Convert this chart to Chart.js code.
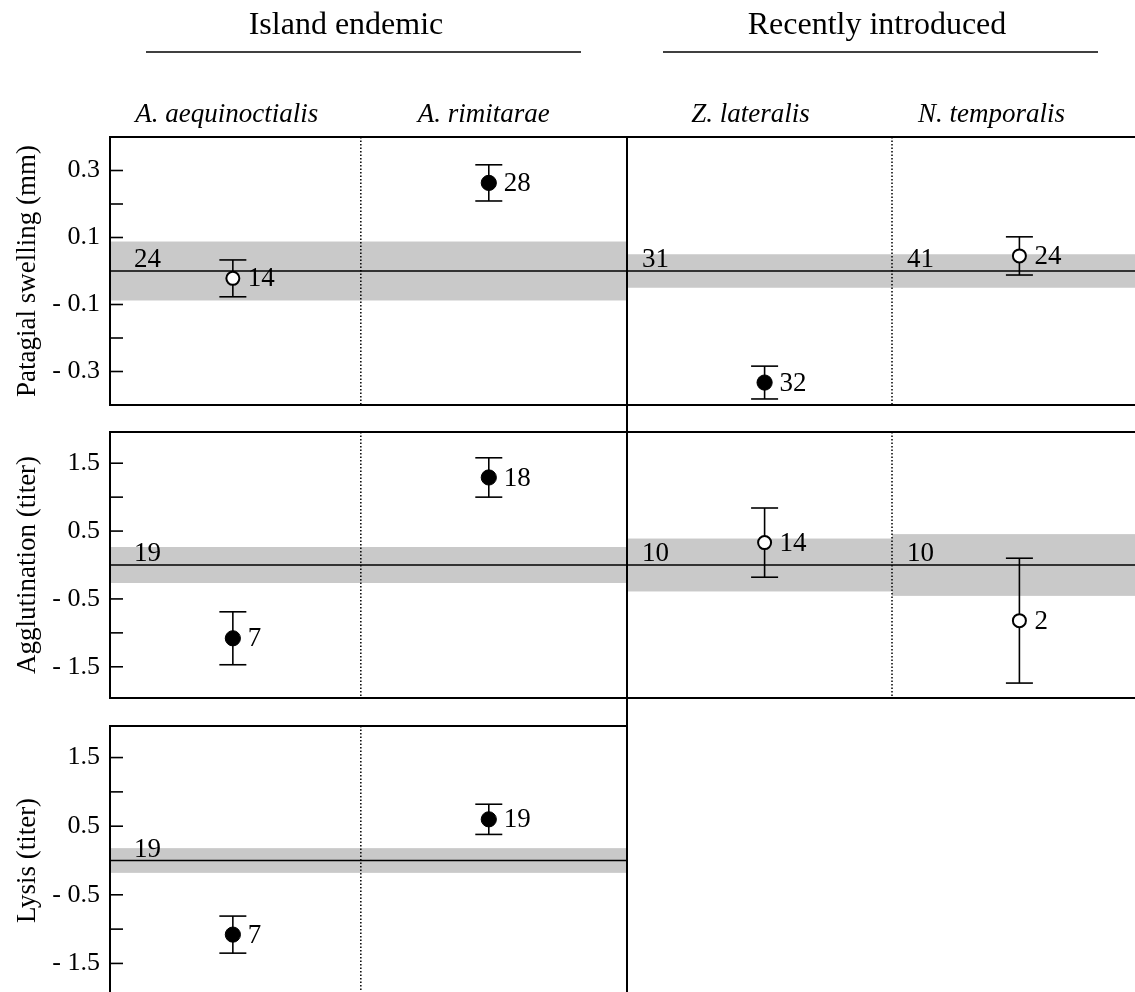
<!DOCTYPE html>
<html>
<head>
<meta charset="utf-8">
<title>Immune responses of island endemic and recently introduced species</title>
<script src="https://cdn.jsdelivr.net/npm/chart.js@4.4.1/dist/chart.umd.min.js"></script>
<style>
  html, body { margin: 0; padding: 0; background: #fff; overflow: hidden; width: 1135px; height: 992px; }
  #stage { position: relative; width: 1135px; height: 992px; overflow: hidden; }
  #stage canvas { position: absolute; left: 0; top: 0; }
</style>
</head>
<body>
<div id="stage"></div>
<script>
// ---------- data ----------
const speciesNames = ['A. aequinoctialis', 'A. rimitarae', 'Z. lateralis', 'N. temporalis'];
const groupNames = ['Island endemic', 'Recently introduced'];
const groupSpecies = [[0, 1], [2, 3]];
const measureTitles = ['Patagial swelling (mm)', 'Agglutination (titer)', 'Lysis (titer)'];

// Patagial swelling: mean response ± SE (relative to control), sample sizes
const swellingMean = [-0.022, 0.263, -0.333, 0.045];
const swellingSE = [0.055, 0.054, 0.049, 0.057];
const swellingN = [14, 28, 32, 24];
const swellingSignificant = [false, true, true, false];
const swellingControlN = [24, 31, 41];
const swellingControlSE = [0.088, 0.05, 0.05];

// Agglutination titer
const agglutinationMean = [-1.08, 1.29, 0.33, -0.82];
const agglutinationSE = [0.39, 0.29, 0.51, 0.92];
const agglutinationN = [7, 18, 14, 2];
const agglutinationSignificant = [true, true, false, false];
const agglutinationControlN = [19, 10, 10];
const agglutinationControlSE = [0.265, 0.39, 0.455];

// Lysis titer (island endemics only)
const lysisMean = [-1.08, 0.60];
const lysisSE = [0.27, 0.22];
const lysisN = [7, 19];
const lysisSignificant = [true, true];
const lysisControlN = [19];
const lysisControlSE = [0.18];

// species covered by each control band
const controlSpecies = [[0, 1], [2], [3]];

// labelled y ticks
const swellingTickLabels = [0.3, 0.1, -0.1, -0.3];
const titerTickLabels = [1.5, 0.5, -0.5, -1.5];

// ---------- layout ----------
const W = 1170, H = 1040;
const SERIF = '"Liberation Serif", "Times New Roman", serif';
const groupBox = [
  { left: 110, right: 627, min: 0.02, max: 2.04, labelPad: 24, nameShift: [-6, -5],
    header: { cx: 346, lineL: 146, lineR: 581 } },
  { left: 627, right: 1157, min: -0.04, max: 2.04, labelPad: 15, nameShift: [-14, -28],
    header: { cx: 877, lineL: 663, lineR: 1098 } }
];
const rowBox = [
  { top: 137, bottom: 405, min: -0.4, max: 0.4, step: 0.1 },
  { top: 432, bottom: 698, min: -1.96, max: 1.96, step: 0.5 },
  { top: 726, bottom: 995, min: -1.96, max: 1.96, step: 0.5 }
];

const measures = [
  { title: measureTitles[0], mean: swellingMean, se: swellingSE, n: swellingN, sig: swellingSignificant,
    ctrlN: swellingControlN, ctrlSE: swellingControlSE, tickLabels: swellingTickLabels },
  { title: measureTitles[1], mean: agglutinationMean, se: agglutinationSE, n: agglutinationN, sig: agglutinationSignificant,
    ctrlN: agglutinationControlN, ctrlSE: agglutinationControlSE, tickLabels: titerTickLabels },
  { title: measureTitles[2], mean: lysisMean, se: lysisSE, n: lysisN, sig: lysisSignificant,
    ctrlN: lysisControlN, ctrlSE: lysisControlSE, tickLabels: titerTickLabels }
];

function fmtTick(v) {
  const a = Math.abs(v).toFixed(1);
  return v < 0 ? '- ' + a : a;
}

function strokeLine(ctx, x1, y1, x2, y2, w) {
  ctx.lineWidth = w;
  ctx.beginPath();
  ctx.moveTo(x1, y1);
  ctx.lineTo(x2, y2);
  ctx.stroke();
}

// draws control bands, reference line, dividers, frame, error bars and labels
const panelPlugin = {
  id: 'panel',
  beforeDatasetsDraw(chart, args, o) {
    const { ctx, chartArea: a, scales: { x, y } } = chart;
    ctx.save();
    ctx.strokeStyle = '#000';
    ctx.setLineDash([]);

    // control bands (mean ± SE of the controls)
    o.bands.forEach(b => {
      const l = b.first === 0 ? a.left : x.getPixelForValue(b.first);
      const r = b.last === 1 ? a.right : x.getPixelForValue(b.last + 1);
      const t = y.getPixelForValue(b.se), bt = y.getPixelForValue(-b.se);
      ctx.fillStyle = '#c9c9c9';
      ctx.fillRect(l, t, r - l, bt - t);
    });

    // control mean
    const y0 = y.getPixelForValue(0);
    strokeLine(ctx, a.left, y0, a.right, y0, 1.6);

    // control sample sizes
    ctx.fillStyle = '#000';
    ctx.font = '27px ' + SERIF;
    ctx.textAlign = 'left';
    ctx.textBaseline = 'alphabetic';
    o.bands.forEach(b => {
      const l = b.first === 0 ? a.left : x.getPixelForValue(b.first);
      ctx.fillText(String(b.n), l + o.labelPad, y0 - 4);
    });

    // dotted divider between species
    ctx.setLineDash([1.5, 2]);
    const xd = x.getPixelForValue(1);
    strokeLine(ctx, xd, a.top, xd, a.bottom, 1.5);
    ctx.setLineDash([]);

    // inward tick marks
    if (o.ticks) {
      y.ticks.forEach(t => {
        const k = t.value / o.step;
        if (Math.abs(k - Math.round(k)) > 1e-6 || Math.abs(t.value) < 1e-9) return;
        const py = y.getPixelForValue(t.value);
        strokeLine(ctx, a.left, py, a.left + 13, py, 1.6);
      });
    }

    // frame
    ctx.lineWidth = 2;
    ctx.strokeRect(a.left, a.top, a.right - a.left, a.bottom - a.top);
    if (o.extendLeft) strokeLine(ctx, a.left, a.top, a.left, H, 2);

    // error bars
    const meta = chart.getDatasetMeta(0);
    chart.data.datasets[0].data.forEach((p, i) => {
      const px = meta.data[i].x;
      const hi = y.getPixelForValue(p.y + p.se), lo = y.getPixelForValue(p.y - p.se);
      strokeLine(ctx, px, hi, px, lo, 1.6);
      strokeLine(ctx, px - 13.5, hi, px + 13.5, hi, 1.6);
      strokeLine(ctx, px - 13.5, lo, px + 13.5, lo, 1.6);
    });
    ctx.restore();
  },
  afterDatasetsDraw(chart, args, o) {
    const { ctx, scales: { x } } = chart;
    const meta = chart.getDatasetMeta(0);
    ctx.save();
    ctx.fillStyle = '#000';
    ctx.font = '27px ' + SERIF;
    ctx.textAlign = 'left';
    ctx.textBaseline = 'middle';
    chart.data.datasets[0].data.forEach((p, i) => {
      ctx.fillText(String(p.n), meta.data[i].x + 15, meta.data[i].y + 1);
    });

    // group header and species names above the top row
    if (o.header) {
      const h = o.header;
      ctx.textAlign = 'center';
      ctx.textBaseline = 'alphabetic';
      ctx.font = '32px ' + SERIF;
      ctx.fillText(h.text, h.cx, 34);
      ctx.strokeStyle = '#000';
      strokeLine(ctx, h.lineL, 52, h.lineR, 52, 1.6);
      ctx.font = 'italic 27px ' + SERIF;
      h.names.forEach((name, i) => {
        ctx.fillText(name, x.getPixelForValue(i + 0.5) + h.shift[i], 122);
      });
    }
    ctx.restore();
  }
};

const stage = document.getElementById('stage');

measures.forEach((m, mi) => {
  groupSpecies.forEach((sp, gi) => {
    if (mi === 2 && gi === 1) return; // lysis measured for island endemics only
    const g = groupBox[gi], r = rowBox[mi];

    // points for the species of this group
    const points = [];
    sp.forEach((s, i) => {
      if (m.mean[s] === undefined) return;
      points.push({ x: i + 0.5, y: m.mean[s], se: m.se[s], n: m.n[s], sig: m.sig[s] });
    });

    // control bands belonging to this group
    const bands = [];
    controlSpecies.forEach((cs, ci) => {
      if (m.ctrlN[ci] === undefined) return;
      if (!cs.every(s => sp.includes(s))) return;
      const loc = cs.map(s => sp.indexOf(s));
      bands.push({ first: Math.min(...loc), last: Math.max(...loc), n: m.ctrlN[ci], se: m.ctrlSE[ci] });
    });

    const canvas = document.createElement('canvas');
    canvas.width = W; canvas.height = H;
    canvas.style.width = W + 'px'; canvas.style.height = H + 'px';
    stage.appendChild(canvas);

    const isLeft = gi === 0;
    new Chart(canvas, {
      type: 'scatter',
      data: {
        datasets: [{
          data: points,
          pointRadius: points.map(p => p.sig ? 7.6 : 6.5),
          pointHoverRadius: points.map(p => p.sig ? 7.6 : 6.5),
          pointBackgroundColor: points.map(p => p.sig ? '#000' : '#fff'),
          pointBorderColor: '#000',
          pointBorderWidth: points.map(p => p.sig ? 1 : 2),
          clip: false
        }]
      },
      options: {
        responsive: false,
        animation: false,
        devicePixelRatio: 1,
        events: [],
        layout: {
          padding: {
            left: isLeft ? 0 : g.left,
            right: W - g.right,
            top: r.top,
            bottom: H - r.bottom
          }
        },
        plugins: {
          legend: { display: false },
          tooltip: { enabled: false },
          panel: {
            bands: bands,
            labelPad: g.labelPad,
            step: r.step,
            ticks: isLeft,
            extendLeft: !isLeft && mi === 0,
            header: mi === 0 ? {
              text: groupNames[gi], cx: g.header.cx, lineL: g.header.lineL, lineR: g.header.lineR,
              names: sp.map(s => speciesNames[s]), shift: g.nameShift
            } : null
          }
        },
        scales: {
          x: { type: 'linear', display: false, min: g.min, max: g.max },
          y: {
            type: 'linear',
            display: isLeft,
            min: r.min, max: r.max,
            grid: { display: false, drawTicks: false },
            border: { display: false },
            ticks: {
              stepSize: r.step,
              autoSkip: false,
              padding: 10,
              color: '#000',
              font: { family: SERIF, size: 26 },
              callback: v => {
                const rv = Math.round(v * 100) / 100;
                return m.tickLabels.includes(rv) ? fmtTick(rv) : '';
              }
            },
            title: {
              display: true,
              text: m.title,
              color: '#000',
              font: { family: SERIF, size: 27 },
              padding: { top: 12, bottom: 0 }
            },
            afterFit: s => { s.width = isLeft ? 110 : 0; }
          }
        }
      },
      plugins: [panelPlugin]
    });
  });
});
</script>
</body>
</html>
